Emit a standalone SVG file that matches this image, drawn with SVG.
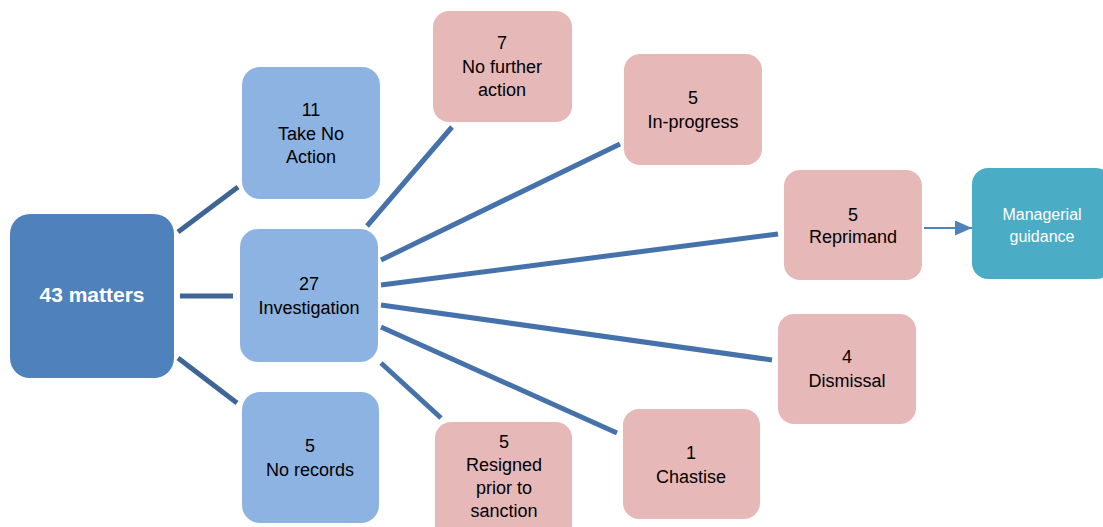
<svg xmlns="http://www.w3.org/2000/svg" width="1103" height="527" viewBox="0 0 1103 527">
<style>
text{font-family:"Liberation Sans",Arial,sans-serif;font-size:18px;fill:#000;text-anchor:middle}
.root{fill:#4F81BD}
.lb{fill:#8DB3E2}
.pk{fill:#E6B8B7}
.tl{fill:#4BACC6}
.w{fill:#fff}
.c1{stroke:#3E6596;stroke-width:5;fill:none}
.c2{stroke:#4672AC;stroke-width:5;fill:none}
</style>
<defs>
<marker id="ah" markerWidth="17" markerHeight="15" refX="17" refY="7.5" orient="auto" markerUnits="userSpaceOnUse" viewBox="0 0 17 15">
<path d="M0,0 L17,7.5 L0,15 Z" fill="#4F81BD"/>
</marker>
</defs>
<rect width="1103" height="527" fill="#fff"/>
<g id="connectors">
<line class="c1" x1="178" y1="232" x2="238" y2="187"/>
<line class="c1" x1="180" y1="296" x2="233" y2="296"/>
<line class="c1" x1="178" y1="358" x2="237" y2="403"/>
<line class="c2" x1="367" y1="226" x2="452" y2="127"/>
<line class="c2" x1="381" y1="260" x2="620" y2="144"/>
<line class="c2" x1="381" y1="285" x2="778" y2="234"/>
<line class="c2" x1="381" y1="305" x2="772" y2="360"/>
<line class="c2" x1="381" y1="327" x2="617" y2="433"/>
<line class="c2" x1="381" y1="363" x2="441" y2="418"/>
<line x1="924" y1="228" x2="972" y2="228" stroke="#4F81BD" stroke-width="2" marker-end="url(#ah)"/>
</g>
<g id="n-root">
<rect class="root" x="10" y="214" width="164" height="164" rx="20"/>
<text class="w" x="92" y="302" style="font-weight:bold;font-size:21px">43 matters</text>
</g>
<g id="n-take">
<rect class="lb" x="242" y="67" width="138" height="132" rx="18"/>
<text x="311" y="116">11</text>
<text x="311" y="140">Take No</text>
<text x="311" y="163">Action</text>
</g>
<g id="n-inv">
<rect class="lb" x="240" y="229" width="138" height="133" rx="18"/>
<text x="309" y="290">27</text>
<text x="309" y="314">Investigation</text>
</g>
<g id="n-norec">
<rect class="lb" x="242" y="392" width="137" height="131" rx="18"/>
<text x="310" y="452">5</text>
<text x="310" y="476">No records</text>
</g>
<g id="n-nfa">
<rect class="pk" x="433" y="11" width="139" height="111" rx="16"/>
<text x="502" y="49">7</text>
<text x="502" y="73">No further</text>
<text x="502" y="96">action</text>
</g>
<g id="n-prog">
<rect class="pk" x="624" y="54" width="138" height="111" rx="16"/>
<text x="693" y="104">5</text>
<text x="693" y="128">In-progress</text>
</g>
<g id="n-rep">
<rect class="pk" x="784" y="170" width="138" height="110" rx="16"/>
<text x="853" y="221">5</text>
<text x="853" y="243">Reprimand</text>
</g>
<g id="n-mg">
<rect class="tl" x="972" y="168" width="140" height="111" rx="16"/>
<text class="w" x="1042" y="220" style="font-size:16px">Managerial</text>
<text class="w" x="1042" y="242" style="font-size:16px">guidance</text>
</g>
<g id="n-dis">
<rect class="pk" x="778" y="314" width="138" height="110" rx="16"/>
<text x="847" y="363">4</text>
<text x="847" y="387">Dismissal</text>
</g>
<g id="n-cha">
<rect class="pk" x="623" y="409" width="137" height="110" rx="16"/>
<text x="691" y="459">1</text>
<text x="691" y="483">Chastise</text>
</g>
<g id="n-res">
<rect class="pk" x="435" y="422" width="137" height="120" rx="16"/>
<text x="504" y="448">5</text>
<text x="504" y="471">Resigned</text>
<text x="504" y="494">prior to</text>
<text x="504" y="517">sanction</text>
</g>
</svg>
